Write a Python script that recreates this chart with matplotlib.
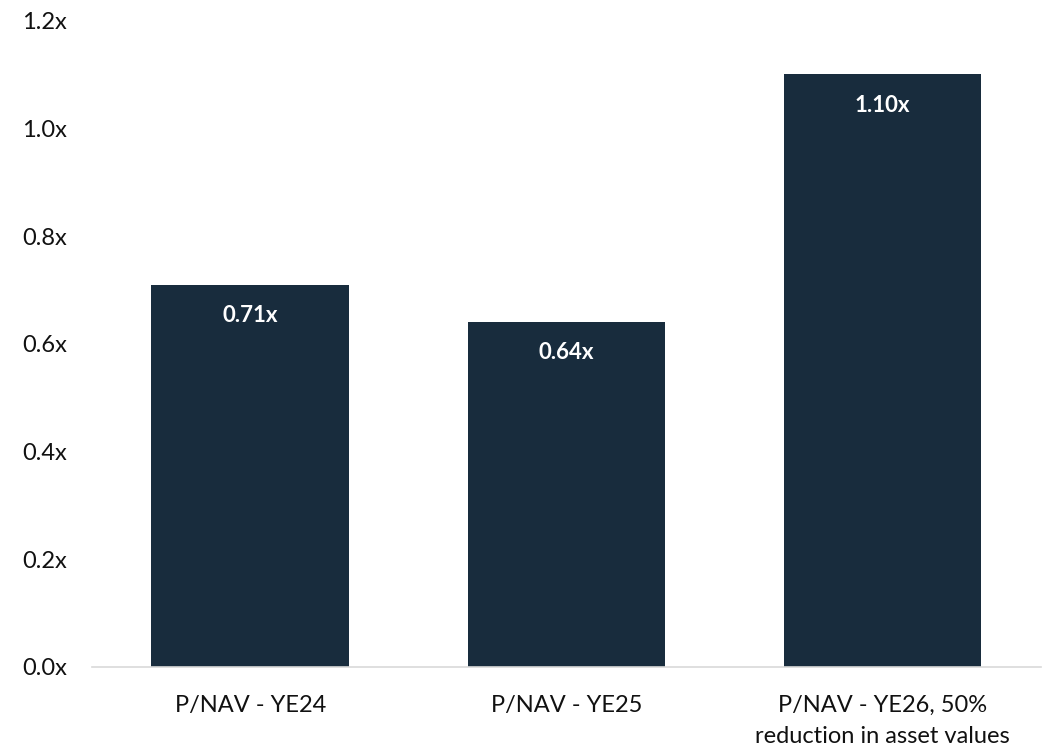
import matplotlib.pyplot as plt

plt.rcParams['font.family'] = ['Lato', 'DejaVu Sans']

categories = ['P/NAV - YE24', 'P/NAV - YE25', 'P/NAV - YE26, 50%\nreduction in asset values']
values = [0.71, 0.64, 1.10]
y_ticks = [0.0, 0.2, 0.4, 0.6, 0.8, 1.0, 1.2]

bar_color = '#182C3D'

fig = plt.figure(figsize=(10.46, 7.49), dpi=100)
ax = fig.add_axes([0.088, 0.1095, 0.907, 0.863])

x = range(len(categories))
bars = ax.bar(x, values, width=0.625, color=bar_color, zorder=2)

# value labels sit just inside the top of each bar
for rect, v in zip(bars, values):
    ax.annotate(f'{v:.2f}x', (rect.get_x() + rect.get_width() / 2, v),
                xytext=(0, -22), textcoords='offset points',
                ha='center', va='center', color='white',
                fontsize=16, fontweight='bold')

ax.set_xlim(-0.5, 2.5)
ax.set_ylim(0, 1.2)
ax.set_yticks(y_ticks)
ax.set_yticklabels([f'{t:.1f}x' for t in y_ticks])
ax.set_xticks(list(x))
ax.set_xticklabels(categories, linespacing=1.6)

for side in ['top', 'right', 'left']:
    ax.spines[side].set_visible(False)
ax.spines['bottom'].set_color('#D9D9D9')
ax.spines['bottom'].set_linewidth(1.2)

ax.tick_params(axis='y', length=0, pad=18, labelsize=17, labelcolor='#111111')
ax.tick_params(axis='x', length=0, pad=20, labelsize=17, labelcolor='#111111')

fig.savefig('out.png', dpi=100)
